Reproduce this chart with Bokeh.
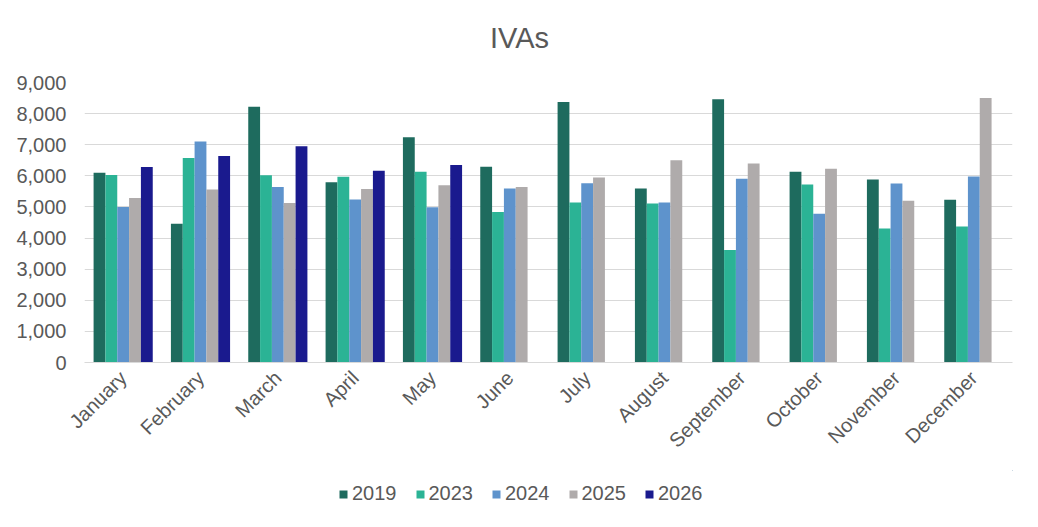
from bokeh.plotting import figure
from bokeh.layouts import column
from bokeh.models import ColumnDataSource, FactorRange, Range1d, Legend, LegendItem, NumeralTickFormatter, FixedTicker, Label
from bokeh.transform import dodge
from bokeh.embed import file_html
from bokeh.resources import INLINE
import math

months = ["January", "February", "March", "April", "May", "June", "July",
          "August", "September", "October", "November", "December"]
years = ["2019", "2023", "2024", "2025", "2026"]
v2019 = [6100, 4460, 8220, 5790, 7240, 6290, 8370, 5590, 8460, 6130, 5880, 5230]
v2023 = [6030, 6570, 6020, 5970, 6130, 4840, 5140, 5110, 3620, 5720, 4310, 4370]
v2024 = [5000, 7100, 5640, 5240, 4990, 5590, 5760, 5140, 5910, 4780, 5750, 5980]
v2025 = [5290, 5560, 5130, 5580, 5700, 5640, 5950, 6500, 6400, 6230, 5200, 8500]
v2026 = [6280, 6640, 6950, 6160, 6350, float("nan"), float("nan"), float("nan"),
         float("nan"), float("nan"), float("nan"), float("nan")]
colors = ["#1E6B5E", "#2BB395", "#5E93CC", "#AFABAB", "#1A1A8E"]
title_text = "IVAs"

def blank_strip(h):
    f = figure(width=1022, height=h, x_range=Range1d(0, 1022), y_range=Range1d(0, h),
               output_backend="svg", toolbar_location=None,
               x_axis_location=None, y_axis_location=None,
               min_border_left=0, min_border_right=0, min_border_top=0, min_border_bottom=0)
    f.xgrid.grid_line_color = None
    f.ygrid.grid_line_color = None
    f.outline_line_color = None
    return f

# title strip
tf = blank_strip(60)
tf.add_layout(Label(x=435, y=23, x_units="screen", y_units="screen", text=title_text,
                    text_align="center", text_baseline="middle",
                    text_font="Liberation Sans", text_font_size="29px", text_color="#595959"))

src = ColumnDataSource(dict(month=months, y2019=v2019, y2023=v2023, y2024=v2024,
                            y2025=v2025, y2026=v2026))

p = figure(width=1022, height=410, x_range=FactorRange(*months, range_padding=0),
           y_range=Range1d(0, 9000), output_backend="svg", toolbar_location=None,
           min_border_left=84, min_border_right=10, min_border_top=22, min_border_bottom=108)

bw = 0.153
cols = ["y2019", "y2023", "y2024", "y2025", "y2026"]
for i, (c, col) in enumerate(zip(cols, colors)):
    p.vbar(x=dodge("month", (i - 2) * bw, range=p.x_range), top=c, width=bw,
           source=src, fill_color=col, line_color=None)

p.yaxis.ticker = FixedTicker(ticks=list(range(0, 9001, 1000)))
p.yaxis.formatter = NumeralTickFormatter(format="0,0")
for ax in (p.xaxis[0], p.yaxis[0]):
    ax.major_label_text_font = "Liberation Sans"
    ax.major_label_text_font_size = "20px"
    ax.major_label_text_color = "#595959"
    ax.major_tick_line_color = None
    ax.minor_tick_line_color = None
p.yaxis.axis_line_color = None
p.yaxis.major_label_standoff = 12
p.xaxis.axis_line_color = "#D9D9D9"
p.xaxis.major_label_orientation = math.pi / 4
p.xaxis.major_label_standoff = 6
p.xgrid.grid_line_color = None
p.ygrid.grid_line_color = "#D9D9D9"
p.ygrid.grid_line_width = 1
p.outline_line_color = None
p.border_fill_color = "white"

# legend strip below the chart (swatch renderers sit outside the visible range)
lf = blank_strip(50)
lf.x_range = Range1d(0, 1)
lf.y_range = Range1d(0, 1)
swatches = []
for col in colors:
    swatches.append(lf.vbar(x=[10], top=[10], bottom=[9], width=0.1,
                            fill_color=col, line_color=None))

legend = Legend(items=[LegendItem(label=y, renderers=[r]) for y, r in zip(years, swatches)],
                orientation="horizontal", location=(254, 15))
legend.label_text_font = "Liberation Sans"
legend.label_text_font_size = "20px"
legend.label_text_color = "#595959"
legend.glyph_width = 10
legend.glyph_height = 10
legend.label_standoff = 4
legend.spacing = 18
legend.border_line_color = None
legend.background_fill_alpha = 0
legend.margin = 0
legend.padding = 2
lf.add_layout(legend, "center")

open("out.html", "w").write(file_html(column(tf, p, lf), INLINE))
